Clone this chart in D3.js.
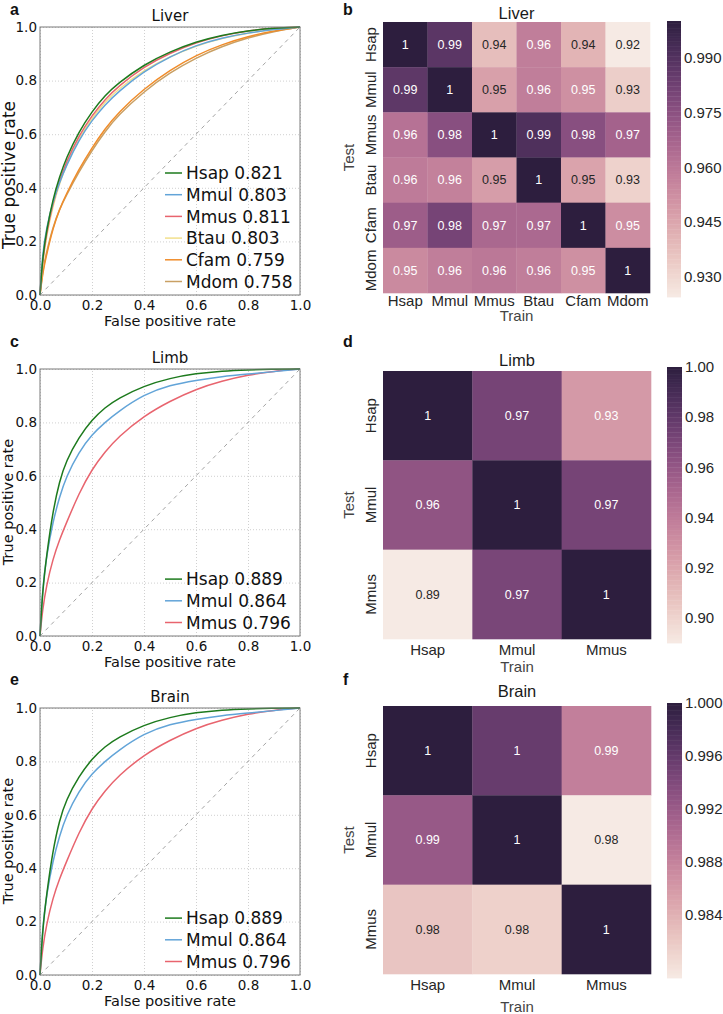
<!DOCTYPE html>
<html><head><meta charset="utf-8">
<script src="https://cdn.jsdelivr.net/npm/d3@7"></script>
<style>body{margin:0;background:#fff} svg{display:block}</style>
</head><body>
<svg id="c" width="723" height="1014"></svg>
<script>
// ---------------- DATA ----------------
const fpr = [0, 0.01, 0.025, 0.05, 0.075, 0.1, 0.15, 0.2, 0.25, 0.3, 0.4, 0.5, 0.6, 0.7, 0.8, 0.9, 1.0];
const rocTicks = [0, 0.2, 0.4, 0.6, 0.8, 1.0];

const liverSpecies = ["Hsap", "Mmul", "Mmus", "Btau", "Cfam", "Mdom"];
const liverAUC = ["0.821", "0.803", "0.811", "0.803", "0.759", "0.758"];
const liverHsapTPR = [0, 0.14, 0.24, 0.36, 0.44, 0.51, 0.61, 0.685, 0.745, 0.79, 0.86, 0.908, 0.945, 0.97, 0.986, 0.996, 1];
const liverMmulTPR = [0, 0.16, 0.25, 0.35, 0.42, 0.48, 0.58, 0.652, 0.71, 0.758, 0.835, 0.89, 0.932, 0.96, 0.978, 0.991, 1];
const liverMmusTPR = [0, 0.13, 0.23, 0.345, 0.425, 0.495, 0.595, 0.67, 0.73, 0.778, 0.852, 0.903, 0.942, 0.968, 0.987, 0.996, 1];
const liverBtauTPR = [0, 0.12, 0.22, 0.335, 0.415, 0.485, 0.585, 0.66, 0.72, 0.767, 0.84, 0.89, 0.93, 0.958, 0.978, 0.992, 1];
const liverCfamTPR = [0, 0.08, 0.15, 0.25, 0.32, 0.375, 0.47, 0.55, 0.62, 0.68, 0.77, 0.84, 0.895, 0.935, 0.965, 0.986, 1];
const liverMdomTPR = [0, 0.09, 0.16, 0.255, 0.32, 0.37, 0.46, 0.54, 0.61, 0.67, 0.76, 0.83, 0.885, 0.928, 0.96, 0.984, 1];

const threeSpecies = ["Hsap", "Mmul", "Mmus"];
const limbAUC = ["0.889", "0.864", "0.796"];
const limbHsapTPR = [0, 0.17, 0.3, 0.47, 0.58, 0.655, 0.745, 0.81, 0.856, 0.89, 0.937, 0.966, 0.983, 0.993, 0.997, 0.999, 1];
const limbMmulTPR = [0, 0.18, 0.3, 0.43, 0.52, 0.595, 0.69, 0.755, 0.8, 0.84, 0.905, 0.94, 0.958, 0.972, 0.981, 0.99, 1];
const limbMmusTPR = [0, 0.1, 0.19, 0.29, 0.36, 0.42, 0.535, 0.625, 0.69, 0.745, 0.825, 0.88, 0.925, 0.955, 0.978, 0.992, 1];

const brainAUC = ["0.889", "0.864", "0.796"];
const brainHsapTPR = [0, 0.17, 0.3, 0.47, 0.58, 0.655, 0.745, 0.81, 0.856, 0.89, 0.937, 0.966, 0.983, 0.993, 0.997, 0.999, 1];
const brainMmulTPR = [0, 0.18, 0.3, 0.43, 0.52, 0.595, 0.69, 0.755, 0.8, 0.84, 0.905, 0.94, 0.958, 0.972, 0.981, 0.99, 1];
const brainMmusTPR = [0, 0.1, 0.19, 0.29, 0.36, 0.42, 0.535, 0.625, 0.69, 0.745, 0.825, 0.88, 0.925, 0.955, 0.978, 0.992, 1];

// rows = Test, columns = Train
const liverMatrix = [
  [1.000, 0.988, 0.938, 0.958, 0.941, 0.9245],
  [0.987, 1.000, 0.947, 0.958, 0.952, 0.933],
  [0.962, 0.976, 1.000, 0.991, 0.976, 0.968],
  [0.959, 0.957, 0.948, 1.000, 0.946, 0.932],
  [0.970, 0.981, 0.966, 0.9655, 1.000, 0.953],
  [0.954, 0.958, 0.960, 0.958, 0.952, 1.000]
];
const limbMatrix = [
  [1.000, 0.972, 0.926],
  [0.962, 1.000, 0.972],
  [0.890, 0.971, 1.000]
];
const brainMatrix = [
  [1.000, 0.9958, 0.9883],
  [0.9922, 1.000, 0.9792],
  [0.9823, 0.9813, 1.000]
];
const liverDomain = [0.9245, 1.0];
const limbDomain = [0.89, 1.0];
const brainDomain = [0.9792, 1.0];
const liverCbTicks = [0.930, 0.945, 0.960, 0.975, 0.990];
const limbCbTicks = [0.90, 0.92, 0.94, 0.96, 0.98, 1.00];
const brainCbTicks = [0.984, 0.988, 0.992, 0.996, 1.000];

// ---------------- STYLE ----------------
const speciesColor = {Hsap: "#1d7a1d", Mmul: "#62a4d8", Mmus: "#e8646e", Btau: "#f2e08c", Cfam: "#f08c2a", Mdom: "#c9a064"};

function cubehelix(t) {
  const light = 0.93, dark = 0.15, start = 0, rot = 0.4, hue = 0.8;
  const x = light + (dark - light) * t;
  const a = hue * x * (1 - x) / 2;
  const phi = 2 * Math.PI * (start / 3 + rot * x);
  const c = Math.cos(phi), s = Math.sin(phi);
  const cl = v => Math.max(0, Math.min(1, v));
  const r = cl(x + a * (-0.14861 * c + 1.78277 * s));
  const g = cl(x + a * (-0.29227 * c - 0.90649 * s));
  const b = cl(x + a * (1.97294 * c));
  return d3.rgb(r * 255, g * 255, b * 255).formatHex();
}
function lum(hex) {
  const c = d3.rgb(hex);
  const f = v => { v /= 255; return v <= 0.03928 ? v / 12.92 : Math.pow((v + 0.055) / 1.055, 2.4); };
  return 0.2126 * f(c.r) + 0.7152 * f(c.g) + 0.0722 * f(c.b);
}

const svg = d3.select("#c");
svg.append("rect").attr("width", 723).attr("height", 1014).attr("fill", "#fff");
const LEFT_FONT = "'DejaVu Sans', sans-serif";
const RIGHT_FONT = "'Liberation Sans', Arial, sans-serif";

// ---------------- ROC PANELS ----------------
function drawROC(cfg) {
  const x = d3.scaleLinear().domain([0, 1]).range([40, 300]);
  const y = d3.scaleLinear().domain([0, 1]).range([cfg.bottom, cfg.top]);
  const g = svg.append("g").style("font-family", LEFT_FONT);

  const gx = g.append("g").attr("transform", `translate(0,${cfg.bottom})`)
    .call(d3.axisBottom(x).tickValues(rocTicks).tickSize(-(cfg.bottom - cfg.top)).tickFormat(""));
  const gy = g.append("g").attr("transform", `translate(40,0)`)
    .call(d3.axisLeft(y).tickValues(rocTicks).tickSize(-(260)).tickFormat(""));
  [gx, gy].forEach(a => {
    a.select(".domain").remove();
    a.selectAll("line").attr("stroke", "#c4c4c4").attr("stroke-dasharray", "1,2").attr("stroke-width", 0.8);
  });

  g.append("path").attr("d", d3.line().x(d => x(d)).y(d => y(d))([0, 1]))
    .attr("stroke", "#9a9a9a").attr("stroke-width", 0.9).attr("stroke-dasharray", "4,4").attr("fill", "none");

  const line = d3.line().x((d, i) => x(fpr[i])).y(d => y(d)).curve(d3.curveBasis);
  cfg.series.slice().reverse().forEach(s => {
    g.append("path").attr("d", line(s.tpr)).attr("fill", "none")
      .attr("stroke", speciesColor[s.name]).attr("stroke-width", 1.5);
  });

  g.append("rect").attr("x", 40).attr("y", cfg.top).attr("width", 260).attr("height", cfg.bottom - cfg.top)
    .attr("fill", "none").attr("stroke", "#7a7a7a").attr("stroke-width", 1);

  const fmt = d3.format(".1f");
  const ax = g.append("g").attr("transform", `translate(0,${cfg.bottom})`)
    .call(d3.axisBottom(x).tickValues(rocTicks).tickSize(0).tickPadding(5).tickFormat(fmt));
  const ay = g.append("g").attr("transform", `translate(40,0)`)
    .call(d3.axisLeft(y).tickValues(rocTicks).tickSize(0).tickPadding(3).tickFormat(fmt));
  [ax, ay].forEach(a => {
    a.select(".domain").remove();
    a.selectAll("text").style("font-family", LEFT_FONT).style("font-size", "13.5px").attr("fill", "#111");
  });

  g.append("text").attr("x", 170).attr("y", cfg.top - 6).attr("text-anchor", "middle")
    .style("font-size", "15px").attr("fill", "#111").text(cfg.title);
  g.append("text").attr("x", 170).attr("y", cfg.bottom + 31).attr("text-anchor", "middle")
    .style("font-size", "14.5px").attr("fill", "#111").text("False positive rate");
  g.append("text").attr("transform", `translate(${cfg.ylabX},${cfg.ylabY}) rotate(-90)`).attr("text-anchor", "middle")
    .style("font-size", cfg.ylabSize + "px").attr("fill", "#111").text("True positive rate");

  const n = cfg.series.length;
  cfg.series.forEach((s, i) => {
    const cy = cfg.bottom - 13.5 - (n - 1 - i) * 21.7;
    g.append("line").attr("x1", 165).attr("x2", 182).attr("y1", cy).attr("y2", cy)
      .attr("stroke", speciesColor[s.name]).attr("stroke-width", 1.5);
    g.append("text").attr("x", 186).attr("y", cy + 6.2).style("font-size", "17px").attr("fill", "#111")
      .text(s.name + " " + s.auc);
  });

  svg.append("text").attr("x", 10).attr("y", cfg.letterY).style("font-family", RIGHT_FONT)
    .style("font-weight", "bold").style("font-size", "16px").attr("fill", "#111").text(cfg.letter);
}

drawROC({top: 27, bottom: 295, title: "Liver", letter: "a", letterY: 15, ylabX: 14.5, ylabY: 175, ylabSize: 17,
  series: liverSpecies.map((nm, i) => ({name: nm, auc: liverAUC[i],
    tpr: [liverHsapTPR, liverMmulTPR, liverMmusTPR, liverBtauTPR, liverCfamTPR, liverMdomTPR][i]}))});
drawROC({top: 369, bottom: 636, title: "Limb", letter: "c", letterY: 347, ylabX: 12.5, ylabY: 502, ylabSize: 14.5,
  series: threeSpecies.map((nm, i) => ({name: nm, auc: limbAUC[i], tpr: [limbHsapTPR, limbMmulTPR, limbMmusTPR][i]}))});
drawROC({top: 708, bottom: 975, title: "Brain", letter: "e", letterY: 685, ylabX: 12.5, ylabY: 841, ylabSize: 14.5,
  series: threeSpecies.map((nm, i) => ({name: nm, auc: brainAUC[i], tpr: [brainHsapTPR, brainMmulTPR, brainMmusTPR][i]}))});

// ---------------- HEATMAPS ----------------
function drawHeat(cfg) {
  const g = svg.append("g").style("font-family", RIGHT_FONT);
  const x = d3.scaleBand().domain(cfg.labels).range([cfg.x0, cfg.x1]);
  const y = d3.scaleBand().domain(cfg.labels).range([cfg.y0, cfg.y1]);
  const color = d3.scaleSequential(cubehelix).domain(cfg.domain);
  const fmt = d3.format(".2~g");

  cfg.matrix.forEach((row, i) => row.forEach((v, j) => {
    const col = color(v);
    g.append("rect").attr("x", x(cfg.labels[j])).attr("y", y(cfg.labels[i]))
      .attr("width", x.bandwidth() + 0.3).attr("height", y.bandwidth() + 0.3).attr("fill", col);
    g.append("text").attr("x", x(cfg.labels[j]) + x.bandwidth() / 2).attr("y", y(cfg.labels[i]) + y.bandwidth() / 2 + 4.4)
      .attr("text-anchor", "middle").style("font-size", "12.5px")
      .attr("fill", lum(col) > 0.408 ? "#262626" : "#ffffff").text(fmt(v));
  }));

  cfg.labels.forEach(l => {
    g.append("text").attr("x", x(l) + x.bandwidth() / 2).attr("y", cfg.y1 + cfg.colLabDy)
      .attr("text-anchor", "middle").style("font-size", "15px").attr("fill", "#262626").text(l);
    g.append("text").attr("transform", `translate(376,${y(l) + y.bandwidth() / 2}) rotate(-90)`)
      .attr("text-anchor", "middle").style("font-size", "15px").attr("fill", "#262626").text(l);
  });
  g.append("text").attr("x", (cfg.x0 + cfg.x1) / 2).attr("y", cfg.y1 + cfg.trainDy)
    .attr("text-anchor", "middle").style("font-size", "15px").attr("fill", "#444").text("Train");
  g.append("text").attr("transform", `translate(354,${(cfg.y0 + cfg.y1) / 2}) rotate(-90)`)
    .attr("text-anchor", "middle").style("font-size", "15px").attr("fill", "#444").text("Test");
  g.append("text").attr("x", (cfg.x0 + cfg.x1) / 2).attr("y", cfg.titleY)
    .attr("text-anchor", "middle").style("font-size", "16.5px").attr("fill", "#1a1a1a").text(cfg.title);

  const cy = d3.scaleLinear().domain(cfg.domain).range([cfg.cbBottom, cfg.cbTop]);
  const nb = 110;
  const step = (cfg.domain[1] - cfg.domain[0]) / nb;
  d3.range(nb).forEach(k => {
    const v0 = cfg.domain[0] + k * step, v1 = v0 + step;
    g.append("rect").attr("x", cfg.cbX).attr("width", cfg.cbW)
      .attr("y", cy(v1)).attr("height", cy(v0) - cy(v1) + 0.4).attr("fill", color((v0 + v1) / 2));
  });
  const cax = g.append("g").attr("transform", `translate(${cfg.cbX + cfg.cbW},0)`)
    .call(d3.axisRight(cy).tickValues(cfg.cbTicks).tickSize(0).tickPadding(3).tickFormat(d3.format(cfg.cbFmt)));
  cax.select(".domain").remove();
  cax.selectAll("text").style("font-family", RIGHT_FONT).style("font-size", "15px").attr("fill", "#262626");

  svg.append("text").attr("x", 343).attr("y", cfg.letterY).style("font-family", RIGHT_FONT)
    .style("font-weight", "bold").style("font-size", "16px").attr("fill", "#111").text(cfg.letter);
}

drawHeat({labels: liverSpecies, matrix: liverMatrix, domain: liverDomain, cbTicks: liverCbTicks, cbFmt: ".3f",
  x0: 383, x1: 650, y0: 22, y1: 293, cbX: 667, cbW: 14, cbTop: 21, cbBottom: 297,
  colLabDy: 13, trainDy: 28, titleY: 19, title: "Liver", letter: "b", letterY: 15});
drawHeat({labels: threeSpecies, matrix: limbMatrix, domain: limbDomain, cbTicks: limbCbTicks, cbFmt: ".2f",
  x0: 383, x1: 651, y0: 371, y1: 639, cbX: 667, cbW: 15, cbTop: 367, cbBottom: 643,
  colLabDy: 16, trainDy: 33, titleY: 366, title: "Limb", letter: "d", letterY: 347});
drawHeat({labels: threeSpecies, matrix: brainMatrix, domain: brainDomain, cbTicks: brainCbTicks, cbFmt: ".3f",
  x0: 383, x1: 651, y0: 706, y1: 974, cbX: 667, cbW: 15, cbTop: 703, cbBottom: 978,
  colLabDy: 16, trainDy: 38, titleY: 697, title: "Brain", letter: "f", letterY: 685});
</script>
</body></html>
